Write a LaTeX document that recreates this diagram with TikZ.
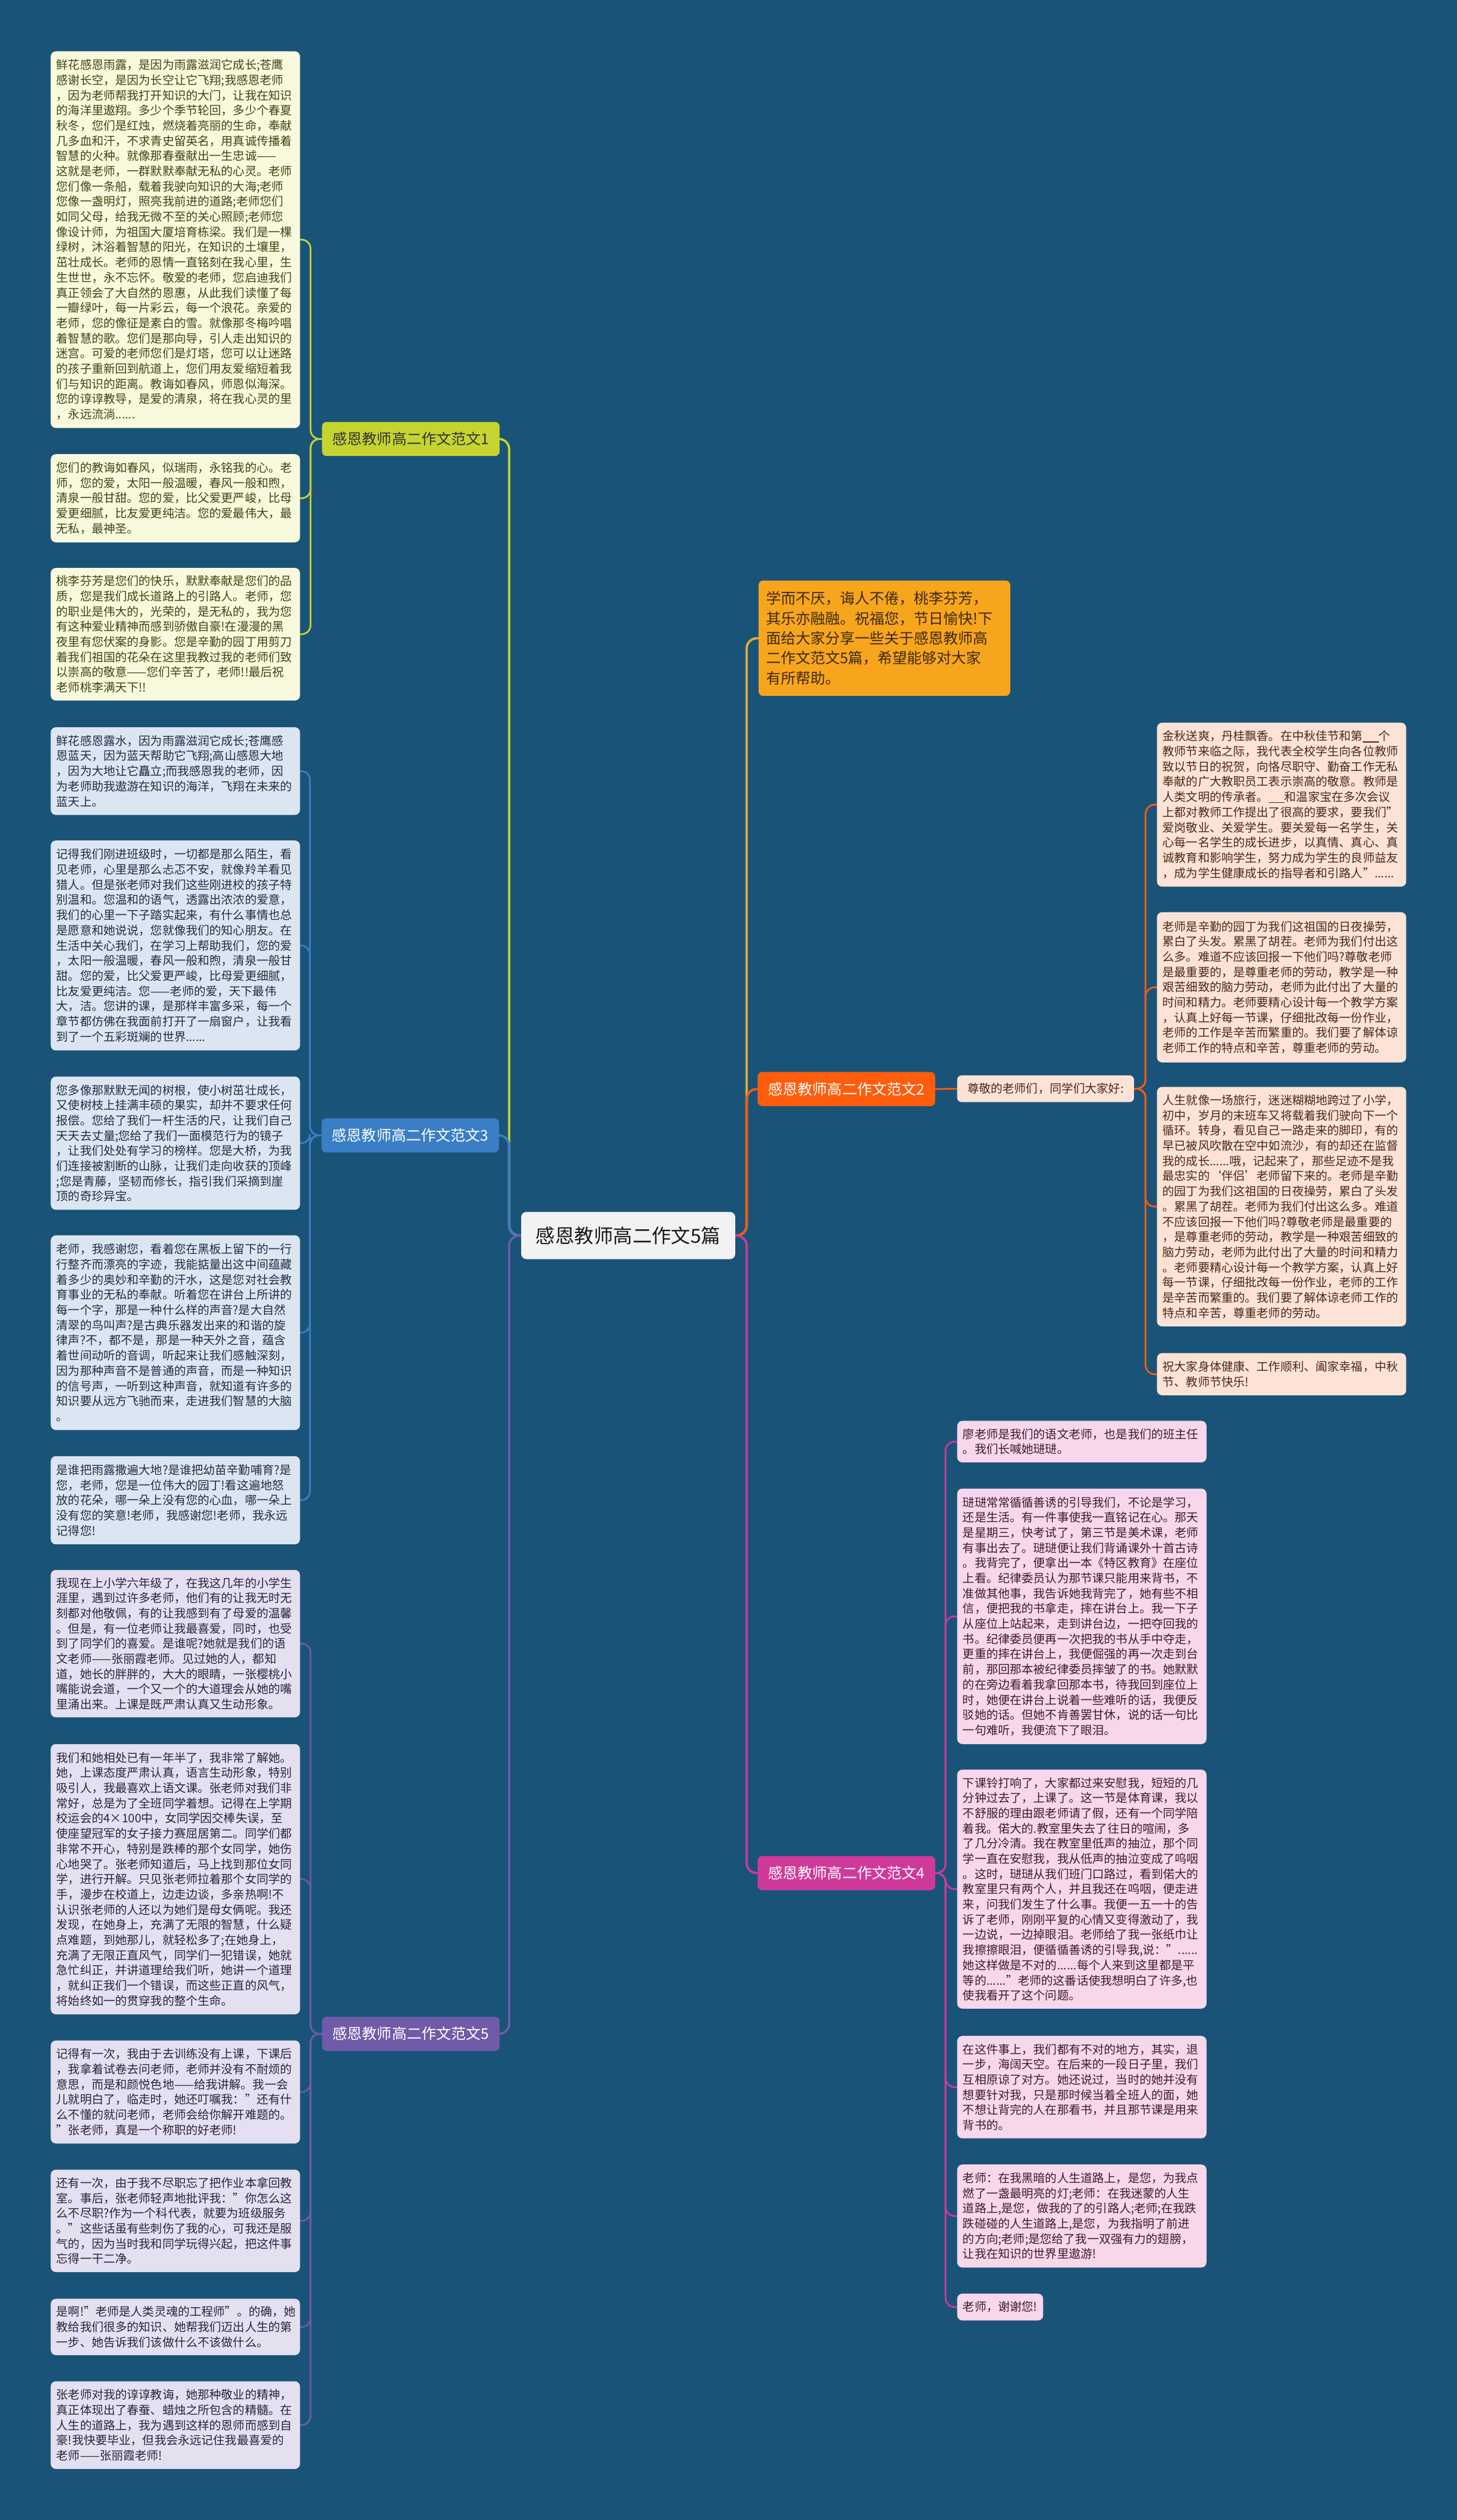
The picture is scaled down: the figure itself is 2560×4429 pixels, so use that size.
\documentclass[tikz,border=0pt]{standalone}
\usepackage{fontspec}
\setmainfont{Noto Sans CJK SC}
\definecolor{bgc}{HTML}{1A5378}
\definecolor{cA}{HTML}{C5D42F}\definecolor{fA}{HTML}{F9F9DD}\definecolor{tA}{HTML}{3C4614}
\definecolor{cB}{HTML}{3A7FC6}\definecolor{fB}{HTML}{DCE6F2}\definecolor{tB}{HTML}{1E2E45}
\definecolor{cC}{HTML}{6F5BA8}\definecolor{fC}{HTML}{E4E0F0}\definecolor{tC}{HTML}{2A2340}
\definecolor{cD}{HTML}{FF5C0B}\definecolor{fD}{HTML}{FCE3D6}\definecolor{tD}{HTML}{4A2818}
\definecolor{cE}{HTML}{CF3A9A}\definecolor{fE}{HTML}{F6D7EC}\definecolor{tE}{HTML}{3C1B31}
\definecolor{cI}{HTML}{F8A51E}\definecolor{tI}{HTML}{3B2A0E}\definecolor{lI}{HTML}{EAA93E}
\newcommand\leaffont{\fontsize{20.7pt}{26.7pt}\selectfont}
\pgfdeclarelayer{bg}
\pgfsetlayers{bg,main}
\tikzset{
  leafbox/.style={rounded corners=9pt, inner xsep=10pt, inner ysep=10pt, text width=418pt,
    align=left, font=\leaffont, anchor=north west},
  lA/.style={leafbox, fill=fA, text=tA},
  lB/.style={leafbox, fill=fB, text=tB},
  lC/.style={leafbox, fill=fC, text=tC},
  lD/.style={leafbox, fill=fD, text=tD},
  lE/.style={leafbox, fill=fE, text=tE},
  lbl/.style={rounded corners=8pt, minimum width=312pt, minimum height=60pt, inner sep=4pt,
    font=\fontsize{26pt}{30pt}\selectfont},
  trunk/.style={line width=4pt, rounded corners=18pt},
  twig/.style={line width=3pt, rounded corners=16pt},
}
\begin{document}
\begin{tikzpicture}[x=1pt,y=-1pt]
\useasboundingbox (0,0) rectangle (2560,4429);
\begin{pgfonlayer}{bg}
\fill[bgc] (0,0) rectangle (2560,4429);
\end{pgfonlayer}

% center
\node[rounded corners=9pt, fill=black!5, text=black!90, minimum width=376pt, minimum height=83pt,
  font=\fontsize{34pt}{40pt}\selectfont] (c) at (1104,2171.5) {感恩教师高二作文5篇};

% branch labels
\node[lbl, fill=cA, text=black!80] (b1) at (722,771.5) {感恩教师高二作文范文1};
\node[lbl, fill=cB, text=white] (b3) at (721,1995.5) {感恩教师高二作文范文3};
\node[lbl, fill=cC, text=white] (b5) at (722,3574.5) {感恩教师高二作文范文5};
\node[lbl, fill=cD, text=white] (b2) at (1487.5,1914) {感恩教师高二作文范文2};
\node[lbl, fill=cE, text=white] (b4) at (1487.5,3292) {感恩教师高二作文范文4};

% intro
\node[rounded corners=8pt, fill=cI, text=tI, anchor=north west, text width=416pt, inner xsep=13pt,
  inner ysep=12pt, minimum height=203pt, align=left, font=\fontsize{26pt}{35pt}\selectfont] (intro) at (1333,1020)
{学而不厌，诲人不倦，桃李芬芳，\\其乐亦融融。祝福您，节日愉快!下\\面给大家分享一些关于感恩教师高\\二作文范文5篇，希望能够对大家\\有所帮助。};

% greeting
\node[rounded corners=8pt, fill=fD, text=tD, minimum width=311pt, minimum height=47pt, font=\leaffont,
  inner sep=4pt] (z) at (1837.5,1913.5) {尊敬的老师们，同学们大家好:};

% ---------- branch 1 leaves
\node[lA, minimum height=662pt] (l1) at (89,90) {鲜花感恩雨露，是因为雨露滋润它成长;苍鹰\\感谢长空，是因为长空让它飞翔;我感恩老师\\，因为老师帮我打开知识的大门，让我在知识\\的海洋里遨翔。多少个季节轮回，多少个春夏\\秋冬，您们是红烛，燃烧着亮丽的生命，奉献\\几多血和汗，不求青史留英名，用真诚传播着\\智慧的火种。就像那春蚕献出一生忠诚——\\这就是老师，一群默默奉献无私的心灵。老师\\您们像一条船，载着我驶向知识的大海;老师\\您像一盏明灯，照亮我前进的道路;老师您们\\如同父母，给我无微不至的关心照顾;老师您\\像设计师，为祖国大厦培育栋梁。我们是一棵\\绿树，沐浴着智慧的阳光，在知识的土壤里，\\茁壮成长。老师的恩情一直铭刻在我心里，生\\生世世，永不忘怀。敬爱的老师，您启迪我们\\真正领会了大自然的恩惠，从此我们读懂了每\\一瓣绿叶，每一片彩云，每一个浪花。亲爱的\\老师，您的像征是素白的雪。就像那冬梅吟唱\\着智慧的歌。您们是那向导，引人走出知识的\\迷宫。可爱的老师您们是灯塔，您可以让迷路\\的孩子重新回到航道上，您们用友爱缩短着我\\们与知识的距离。教诲如春风，师恩似海深。\\您的谆谆教导，是爱的清泉，将在我心灵的里\\，永远流淌......};
\node[lA, minimum height=155pt] (l2) at (89,798) {您们的教诲如春风，似瑞雨，永铭我的心。老\\师，您的爱，太阳一般温暖，春风一般和煦，\\清泉一般甘甜。您的爱，比父爱更严峻，比母\\爱更细腻，比友爱更纯洁。您的爱最伟大，最\\无私，最神圣。};
\node[lA, minimum height=233pt] (l3) at (89,998) {桃李芬芳是您们的快乐，默默奉献是您们的品\\质，您是我们成长道路上的引路人。老师，您\\的职业是伟大的，光荣的，是无私的，我为您\\有这种爱业精神而感到骄傲自豪!在漫漫的黑\\夜里有您伏案的身影。您是辛勤的园丁用剪刀\\着我们祖国的花朵在这里我教过我的老师们致\\以崇高的敬意——您们辛苦了，老师!!最后祝\\老师桃李满天下!!};

% ---------- branch 3 leaves
\node[lB, minimum height=154pt] (l4) at (89,1278) {鲜花感恩露水，因为雨露滋润它成长;苍鹰感\\恩蓝天，因为蓝天帮助它飞翔;高山感恩大地\\，因为大地让它矗立;而我感恩我的老师，因\\为老师助我遨游在知识的海洋，飞翔在未来的\\蓝天上。};
\node[lB, minimum height=369pt] (l5) at (89,1477) {记得我们刚进班级时，一切都是那么陌生，看\\见老师，心里是那么忐忑不安，就像羚羊看见\\猎人。但是张老师对我们这些刚进校的孩子特\\别温和。您温和的语气，透露出浓浓的爱意，\\我们的心里一下子踏实起来，有什么事情也总\\是愿意和她说说，您就像我们的知心朋友。在\\生活中关心我们，在学习上帮助我们，您的爱\\，太阳一般温暖，春风一般和煦，清泉一般甘\\甜。您的爱，比父爱更严峻，比母爱更细腻，\\比友爱更纯洁。您——老师的爱，天下最伟\\大，洁。您讲的课，是那样丰富多采，每一个\\章节都仿佛在我面前打开了一扇窗户，让我看\\到了一个五彩斑斓的世界......};
\node[lB, minimum height=234pt] (l6) at (89,1892) {您多像那默默无闻的树根，使小树茁壮成长，\\又使树枝上挂满丰硕的果实，却并不要求任何\\报偿。您给了我们一杆生活的尺，让我们自己\\天天去丈量;您给了我们一面模范行为的镜子\\，让我们处处有学习的榜样。您是大桥，为我\\们连接被割断的山脉，让我们走向收获的顶峰\\;您是青藤，坚韧而修长，指引我们采摘到崖\\顶的奇珍异宝。};
\node[lB, minimum height=342pt] (l7) at (89,2171) {老师，我感谢您，看着您在黑板上留下的一行\\行整齐而漂亮的字迹，我能掂量出这中间蕴藏\\着多少的奥妙和辛勤的汗水，这是您对社会教\\育事业的无私的奉献。听着您在讲台上所讲的\\每一个字，那是一种什么样的声音?是大自然\\清翠的鸟叫声?是古典乐器发出来的和谐的旋\\律声?不，都不是，那是一种天外之音，蕴含\\着世间动听的音调，听起来让我们感触深刻，\\因为那种声音不是普通的声音，而是一种知识\\的信号声，一听到这种声音，就知道有许多的\\知识要从远方飞驰而来，走进我们智慧的大脑\\。};
\node[lB, minimum height=155pt] (l8) at (89,2559) {是谁把雨露撒遍大地?是谁把幼苗辛勤哺育?是\\您，老师，您是一位伟大的园丁!看这遍地怒\\放的花朵，哪一朵上没有您的心血，哪一朵上\\没有您的笑意!老师，我感谢您!老师，我永远\\记得您!};

% ---------- branch 5 leaves
\node[lC, minimum height=259pt] (l9) at (89,2759) {我现在上小学六年级了，在我这几年的小学生\\涯里，遇到过许多老师，他们有的让我无时无\\刻都对他敬佩，有的让我感到有了母爱的温馨\\。但是，有一位老师让我最喜爱，同时，也受\\到了同学们的喜爱。是谁呢?她就是我们的语\\文老师——张丽霞老师。见过她的人，都知\\道，她长的胖胖的，大大的眼睛，一张樱桃小\\嘴能说会道，一个又一个的大道理会从她的嘴\\里涌出来。上课是既严肃认真又生动形象。};
\node[lC, minimum height=475pt] (l10) at (89,3065) {我们和她相处已有一年半了，我非常了解她。\\她，上课态度严肃认真，语言生动形象，特别\\吸引人，我最喜欢上语文课。张老师对我们非\\常好，总是为了全班同学着想。记得在上学期\\校运会的4×100中，女同学因交棒失误，至\\使座望冠军的女子接力赛屈居第二。同学们都\\非常不开心，特别是跌棒的那个女同学，她伤\\心地哭了。张老师知道后，马上找到那位女同\\学，进行开解。只见张老师拉着那个女同学的\\手，漫步在校道上，边走边谈，多亲热啊!不\\认识张老师的人还以为她们是母女俩呢。我还\\发现，在她身上，充满了无限的智慧，什么疑\\点难题，到她那儿，就轻松多了;在她身上，\\充满了无限正直风气，同学们一犯错误，她就\\急忙纠正，并讲道理给我们听，她讲一个道理\\，就纠正我们一个错误，而这些正直的风气，\\将始终如一的贯穿我的整个生命。};
\node[lC, minimum height=181pt] (l11) at (89,3586) {记得有一次，我由于去训练没有上课，下课后\\，我拿着试卷去问老师，老师并没有不耐烦的\\意思，而是和颜悦色地——给我讲解。我一会\\儿就明白了，临走时，她还叮嘱我："还有什\\么不懂的就问老师，老师会给你解开难题的。\\"张老师，真是一个称职的好老师!};
\node[lC, minimum height=180pt] (l12) at (89,3813) {还有一次，由于我不尽职忘了把作业本拿回教\\室。事后，张老师轻声地批评我："你怎么这\\么不尽职?作为一个科代表，就要为班级服务\\。"这些话虽有些刺伤了我的心，可我还是服\\气的，因为当时我和同学玩得兴起，把这件事\\忘得一干二净。};
\node[lC, minimum height=99pt] (l13) at (89,4040) {是啊!"老师是人类灵魂的工程师"。的确，她\\教给我们很多的知识、她帮我们迈出人生的第\\一步、她告诉我们该做什么不该做什么。};
\node[lC, minimum height=154pt] (l14) at (89,4185) {张老师对我的谆谆教诲，她那种敬业的精神，\\真正体现出了春蚕、蜡烛之所包含的精髓。在\\人生的道路上，我为遇到这样的恩师而感到自\\豪!我快要毕业，但我会永远记住我最喜爱的\\老师——张丽霞老师!};

% ---------- branch 2 leaves
\node[lD, minimum height=288pt] (r2) at (2033,1270) {金秋送爽，丹桂飘香。在中秋佳节和第\rule[-3pt]{28pt}{1.5pt}个\\教师节来临之际，我代表全校学生向各位教师\\致以节日的祝贺，向恪尽职守、勤奋工作无私\\奉献的广大教职员工表示崇高的敬意。教师是\\人类文明的传承者。\rule[-3pt]{28pt}{1.5pt}和温家宝在多次会议\\上都对教师工作提出了很高的要求，要我们"\\爱岗敬业、关爱学生。要关爱每一名学生，关\\心每一名学生的成长进步，以真情、真心、真\\诚教育和影响学生，努力成为学生的良师益友\\，成为学生健康成长的指导者和引路人"......};
\node[lD, minimum height=264pt] (r3) at (2033,1603) {老师是辛勤的园丁为我们这祖国的日夜操劳，\\累白了头发。累黑了胡茬。老师为我们付出这\\么多。难道不应该回报一下他们吗?尊敬老师\\是最重要的，是尊重老师的劳动，教学是一种\\艰苦细致的脑力劳动，老师为此付出了大量的\\时间和精力。老师要精心设计每一个教学方案\\，认真上好每一节课，仔细批改每一份作业，\\老师的工作是辛苦而繁重的。我们要了解体谅\\老师工作的特点和辛苦，尊重老师的劳动。};
\node[lD, minimum height=421pt] (r4) at (2033,1910) {人生就像一场旅行，迷迷糊糊地跨过了小学，\\初中，岁月的末班车又将载着我们驶向下一个\\循环。转身，看见自己一路走来的脚印，有的\\早已被风吹散在空中如流沙，有的却还在监督\\我的成长......哦，记起来了，那些足迹不是我\\最忠实的‘伴侣’老师留下来的。老师是辛勤\\的园丁为我们这祖国的日夜操劳，累白了头发\\。累黑了胡茬。老师为我们付出这么多。难道\\不应该回报一下他们吗?尊敬老师是最重要的\\，是尊重老师的劳动，教学是一种艰苦细致的\\脑力劳动，老师为此付出了大量的时间和精力\\。老师要精心设计每一个教学方案，认真上好\\每一节课，仔细批改每一份作业，老师的工作\\是辛苦而繁重的。我们要了解体谅老师工作的\\特点和辛苦，尊重老师的劳动。};
\node[lD, minimum height=74pt] (r5) at (2033,2378) {祝大家身体健康、工作顺利、阖家幸福，中秋\\节、教师节快乐!};

% ---------- branch 4 leaves
\node[lE, minimum height=73pt] (p1) at (1682,2497) {廖老师是我们的语文老师，也是我们的班主任\\。我们长喊她琎琎。};
\node[lE, minimum height=449pt] (p2) at (1682,2616) {琎琎常常循循善诱的引导我们，不论是学习，\\还是生活。有一件事使我一直铭记在心。那天\\是星期三，快考试了，第三节是美术课，老师\\有事出去了。琎琎便让我们背诵课外十首古诗\\。我背完了，便拿出一本《特区教育》在座位\\上看。纪律委员认为那节课只能用来背书，不\\准做其他事，我告诉她我背完了，她有些不相\\信，便把我的书拿走，摔在讲台上。我一下子\\从座位上站起来，走到讲台边，一把夺回我的\\书。纪律委员便再一次把我的书从手中夺走，\\更重的摔在讲台上，我便倔强的再一次走到台\\前，那回那本被纪律委员摔皱了的书。她默默\\的在旁边看着我拿回那本书，待我回到座位上\\时，她便在讲台上说着一些难听的话，我便反\\驳她的话。但她不肯善罢甘休，说的话一句比\\一句难听，我便流下了眼泪。};
\node[lE, minimum height=420pt] (p3) at (1682,3110) {下课铃打响了，大家都过来安慰我，短短的几\\分钟过去了，上课了。这一节是体育课，我以\\不舒服的理由跟老师请了假，还有一个同学陪\\着我。偌大的.教室里失去了往日的喧闹，多\\了几分冷清。我在教室里低声的抽泣，那个同\\学一直在安慰我，我从低声的抽泣变成了呜咽\\。这时，琎琎从我们班门口路过，看到偌大的\\教室里只有两个人，并且我还在呜咽，便走进\\来，问我们发生了什么事。我便一五一十的告\\诉了老师，刚刚平复的心情又变得激动了，我\\一边说，一边掉眼泪。老师给了我一张纸巾让\\我擦擦眼泪，便循循善诱的引导我,说："......\\她这样做是不对的......每个人来到这里都是平\\等的......"老师的这番话使我想明白了许多,也\\使我看开了这个问题。};
\node[lE, minimum height=180pt] (p4) at (1682,3578) {在这件事上，我们都有不对的地方，其实，退\\一步，海阔天空。在后来的一段日子里，我们\\互相原谅了对方。她还说过，当时的她并没有\\想要针对我，只是那时候当着全班人的面，她\\不想让背完的人在那看书，并且那节课是用来\\背书的。};
\node[lE, minimum height=181pt] (p5) at (1682,3804) {老师：在我黑暗的人生道路上，是您，为我点\\燃了一盏最明亮的灯;老师：在我迷蒙的人生\\道路上,是您，做我的了的引路人;老师;在我跌\\跌碰碰的人生道路上,是您，为我指明了前进\\的方向;老师;是您给了我一双强有力的翅膀，\\让我在知识的世界里遨游!};
\node[lE, text width=131pt, minimum height=47pt] (p6) at (1682,4031) {老师，谢谢您!};

% ---------- connectors
\begin{pgfonlayer}{bg}
\draw[trunk, lI] (c.east) -- ++(20,0) |- (intro.west);
\draw[trunk, cA] (c.west) -- ++(-21,0) |- (b1.east);
\draw[trunk, cB] (c.west) -- ++(-21,0) |- (b3.east);
\draw[trunk, cC] (c.west) -- ++(-21,0) |- (b5.east);
\draw[trunk, cD] (c.east) -- ++(20,0) |- (b2.west);
\draw[trunk, cE] (c.east) -- ++(20,0) |- (b4.west);
\foreach \n in {l1,l2,l3} \draw[twig, cA] (b1.west) -- ++(-20,0) |- (\n.east);
\foreach \n in {l4,l5,l6,l7,l8} \draw[twig, cB] (b3.west) -- ++(-20,0) |- (\n.east);
\foreach \n in {l9,l10,l11,l12,l13,l14} \draw[twig, cC] (b5.west) -- ++(-20,0) |- (\n.east);
\draw[twig, cD] (b2.east) -- (z.west);
\foreach \n in {r2,r3,r4,r5} \draw[twig, cD] (z.east) -- ++(20,0) |- (\n.west);
\foreach \n in {p1,p2,p3,p4,p5,p6} \draw[twig, cE] (b4.east) -- ++(18,0) |- (\n.west);
\end{pgfonlayer}
\end{tikzpicture}
\end{document}
